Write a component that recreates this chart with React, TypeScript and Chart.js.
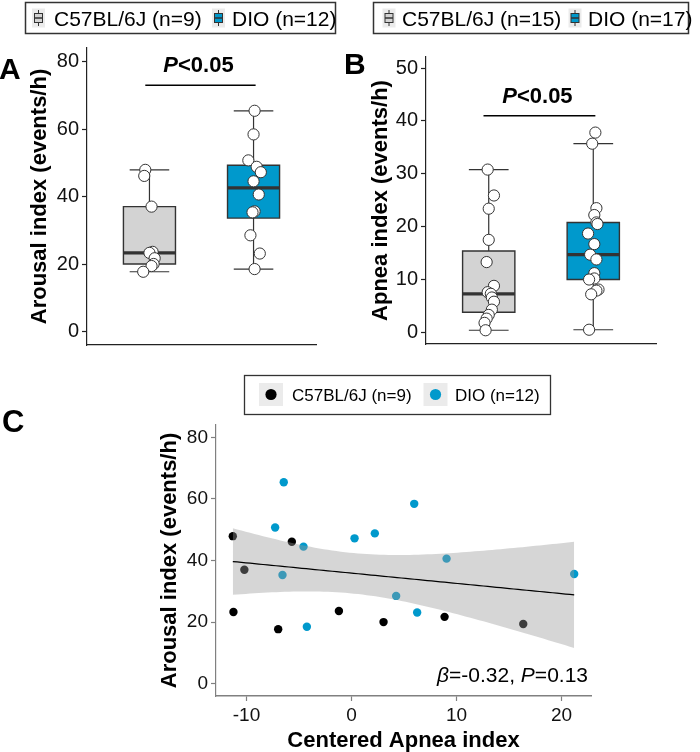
import React, { useEffect, useRef } from 'react';
import { Chart, registerables } from 'chart.js';

Chart.register(...registerables);

// ---------------- DATA ----------------
const GROUPS = ['C57BL/6J', 'DIO'];

// Panel A: arousal index (events/h)
const arousalC57 = [47.9, 46.1, 37.0, 23.6, 23.3, 21.7, 20.0, 19.4, 17.7];
const arousalC57Pos = [0.96, 0.95, 1.02, 1.03, 1.0, 1.05, 1.04, 1.02, 0.94];
const arousalDIO = [65.4, 58.4, 50.7, 48.8, 47.2, 44.5, 40.6, 35.6, 35.3, 28.5, 23.1, 18.5];
const arousalDIOPos = [2.01, 2.0, 1.95, 2.03, 2.07, 2.0, 2.05, 2.01, 1.99, 1.97, 2.06, 2.01];

// Panel B: apnea index (events/h)
const apneaC57 = [30.8, 25.9, 23.4, 17.5, 13.3, 8.8, 7.6, 7.3, 6.6, 5.8, 4.3, 3.3, 2.6, 1.8, 0.4];
const apneaC57Pos = [0.99, 1.05, 1.0, 1.0, 0.98, 1.05, 0.99, 1.02, 1.03, 1.05, 1.03, 1.0, 0.98, 0.96, 0.97];
const apneaDIO = [37.8, 35.7, 23.5, 22.2, 20.8, 20.5, 18.7, 16.7, 14.7, 13.8, 11.2, 10.2, 10.0, 8.1, 7.9, 7.2, 0.5];
const apneaDIOPos = [2.02, 1.99, 2.03, 2.01, 2.03, 2.04, 1.95, 2.01, 1.97, 2.03, 2.01, 2.01, 1.96, 2.05, 2.03, 1.98, 1.96];

// Panel C: centered apnea index vs arousal index
const centeredApneaC57 = [-11.3, -11.24, -10.2, -6.98, -5.68, -1.2, 3.05, 8.86, 16.35];
const arousalC57C = [47.9, 23.3, 37.0, 17.7, 46.1, 23.6, 20.0, 21.7, 19.4];
const centeredApneaDIO = [-6.45, -7.27, -6.57, -4.57, -4.25, 0.29, 2.22, 4.25, 5.97, 6.25, 9.05, 21.2];
const arousalDIOC = [65.4, 50.7, 35.3, 44.5, 18.5, 47.2, 48.8, 28.5, 58.4, 23.1, 40.6, 35.6];

// Ticks
const ticksA = [0, 20, 40, 60, 80];
const ticksB = [0, 10, 20, 30, 40, 50];
const ticksCY = [0, 20, 40, 60, 80];
const ticksCX = [-10, 0, 10, 20];

// Significance bars
const sigA = { from: 0.96, to: 2.02, y: 73 };
const sigB = { from: 0.95, to: 2.02, y: 41 };
const sigLabel = ['P', '<0.05'];
const statLabel = ['β', '=-0.32, ', 'P', '=0.13'];
const T_CRIT_DF19 = 2.093;

// ---------------- STYLE ----------------
const FONT = "'Liberation Sans', Arial, Helvetica, sans-serif";
const GRAY_FILL = '#d3d3d3';
const BLUE = '#0099cc';
const EDGE = '#333333';
const BOX_W = 0.5;
const CAP_W = 0.38;

// ---------------- HELPERS ----------------
function quantile(sorted: number[], p: number) {
  const h = (sorted.length - 1) * p;
  const lo = Math.floor(h);
  const hi = Math.min(lo + 1, sorted.length - 1);
  return sorted[lo] + (h - lo) * (sorted[hi] - sorted[lo]);
}
function boxStats(vals: number[]) {
  const s = [...vals].sort((a, b) => a - b);
  const q1 = quantile(s, 0.25), med = quantile(s, 0.5), q3 = quantile(s, 0.75);
  const iqr = q3 - q1;
  const lo = Math.min(...s.filter((v) => v >= q1 - 1.5 * iqr));
  const hi = Math.max(...s.filter((v) => v <= q3 + 1.5 * iqr));
  return { q1, med, q3, lo, hi };
}
function seg(pts: { x: number; y: number }[], extra: any = {}) {
  return {
    type: 'line',
    data: pts,
    showLine: true,
    pointRadius: 0,
    pointHoverRadius: 0,
    borderColor: EDGE,
    borderWidth: 1.2,
    tension: 0,
    fill: false,
    ...extra,
  };
}
function boxDatasets(vals: number[], pos: number, fill: string) {
  const st = boxStats(vals);
  const hw = BOX_W / 2, cw = CAP_W / 2;
  return [
    seg([{ x: pos - hw, y: st.q3 }, { x: pos + hw, y: st.q3 }], {
      fill: { value: st.q1 }, backgroundColor: fill, borderColor: 'rgba(0,0,0,0)', borderWidth: 1, order: 6,
    }),
    seg([{ x: pos, y: st.q3 }, { x: pos, y: st.hi }], { order: 5 }),
    seg([{ x: pos, y: st.q1 }, { x: pos, y: st.lo }], { order: 5 }),
    seg([{ x: pos - cw, y: st.hi }, { x: pos + cw, y: st.hi }], { order: 5 }),
    seg([{ x: pos - cw, y: st.lo }, { x: pos + cw, y: st.lo }], { order: 5 }),
    seg(
      [
        { x: pos - hw, y: st.q1 }, { x: pos + hw, y: st.q1 }, { x: pos + hw, y: st.q3 },
        { x: pos - hw, y: st.q3 }, { x: pos - hw, y: st.q1 },
      ],
      { order: 4, borderCapStyle: 'square', borderJoinStyle: 'miter', borderWidth: 1.4 }
    ),
    seg([{ x: pos - hw, y: st.med }, { x: pos + hw, y: st.med }], { borderWidth: 3.2, order: 3 }),
  ];
}
function pointsDataset(pos: number[], vals: number[]) {
  return {
    type: 'line',
    data: vals.map((v, i) => ({ x: pos[i], y: v })),
    showLine: false,
    pointRadius: 5.6,
    pointHoverRadius: 5.6,
    pointBackgroundColor: '#ffffff',
    pointBorderColor: EDGE,
    pointBorderWidth: 1,
    order: 1,
  };
}
function drawParts(ctx: CanvasRenderingContext2D, parts: { t: string; it?: boolean }[], x: number, y: number, size: number, weight: string, align: string) {
  const fonts = parts.map((p) => `${p.it ? 'italic ' : ''}${weight} ${size}px ${FONT}`);
  const widths = parts.map((p, i) => { ctx.font = fonts[i]; return ctx.measureText(p.t).width; });
  const total = widths.reduce((a, b) => a + b, 0);
  let cx = align === 'center' ? x - total / 2 : align === 'right' ? x - total : x;
  ctx.textAlign = 'left';
  ctx.textBaseline = 'alphabetic';
  parts.forEach((p, i) => { ctx.font = fonts[i]; ctx.fillText(p.t, cx, y); cx += widths[i]; });
}
function drawRotated(ctx: CanvasRenderingContext2D, text: string, x: number, y: number, font: string) {
  ctx.save();
  ctx.translate(x, y);
  ctx.rotate(-Math.PI / 2);
  ctx.font = font;
  ctx.fillStyle = '#000';
  ctx.textAlign = 'center';
  ctx.textBaseline = 'middle';
  ctx.fillText(text, 0, 0);
  ctx.restore();
}
function drawBoxKey(ctx: CanvasRenderingContext2D, cx: number, cy: number, fill: string) {
  ctx.save();
  ctx.fillStyle = '#ebebeb';
  ctx.fillRect(cx - 6.5, cy - 9.5, 13, 19);
  ctx.strokeStyle = EDGE;
  ctx.lineWidth = 1;
  ctx.beginPath();
  ctx.moveTo(cx, cy - 8); ctx.lineTo(cx, cy + 8);
  ctx.stroke();
  ctx.fillStyle = fill;
  ctx.fillRect(cx - 4, cy - 4.5, 8, 9);
  ctx.strokeRect(cx - 4, cy - 4.5, 8, 9);
  ctx.lineWidth = 1.5;
  ctx.beginPath();
  ctx.moveTo(cx - 4, cy); ctx.lineTo(cx + 4, cy);
  ctx.stroke();
  ctx.restore();
}
function drawBoxLegend(ctx: CanvasRenderingContext2D, box: any, items: any[]) {
  ctx.save();
  ctx.strokeStyle = EDGE;
  ctx.lineWidth = 1.5;
  ctx.strokeRect(box.x, box.y, box.w, box.h);
  items.forEach((it) => {
    drawBoxKey(ctx, it.kx, box.y + box.h / 2, it.color);
    ctx.fillStyle = '#000';
    ctx.font = `21px ${FONT}`;
    ctx.textAlign = 'left';
    ctx.textBaseline = 'alphabetic';
    ctx.fillText(it.label, it.tx, box.y + box.h / 2 + 8);
  });
  ctx.restore();
}

function yAxis(min: number, max: number, ticks: number[], width: number, color: string, size: number) {
  return {
    type: 'linear',
    min,
    max,
    afterBuildTicks: (s: any) => { s.ticks = ticks.map((v) => ({ value: v })); },
    afterFit: (s: any) => { s.width = width; },
    grid: { display: true, drawOnChartArea: false, drawTicks: true, tickLength: 5, tickColor: color, tickWidth: 1.2 },
    border: { display: true, color, width: 1.2 },
    ticks: { color: '#111', font: { size, family: FONT }, padding: 3 },
  };
}

function boxConfig(opts: any) {
  const { c57, c57Pos, dio, dioPos, ymin, ymax, ticks, yWidth, padding, sig, letter, letterY, yTitle, yTitleX, legend } = opts;
  const datasets: any[] = [
    ...boxDatasets(c57, 1, GRAY_FILL),
    ...boxDatasets(dio, 2, BLUE),
    pointsDataset(c57Pos, c57),
    pointsDataset(dioPos, dio),
    seg([{ x: sig.from, y: sig.y }, { x: sig.to, y: sig.y }], { borderColor: '#000', borderWidth: 1.5, order: 0 }),
  ];
  const decor = {
    id: 'decor',
    afterDraw(chart: any) {
      const ctx = chart.ctx as CanvasRenderingContext2D;
      const area = chart.chartArea;
      const xs = chart.scales.x, ys = chart.scales.y;
      ctx.save();
      ctx.fillStyle = '#000';
      ctx.font = `bold 30px ${FONT}`;
      ctx.textAlign = 'left';
      ctx.textBaseline = 'alphabetic';
      ctx.fillText(letter, -1, letterY);
      drawRotated(ctx, yTitle, yTitleX, (area.top + area.bottom) / 2, `bold 22px ${FONT}`);
      const mid = (xs.getPixelForValue(sig.from) + xs.getPixelForValue(sig.to)) / 2;
      drawParts(ctx, [{ t: sigLabel[0], it: true }, { t: sigLabel[1] }], mid - 2, ys.getPixelForValue(sig.y) - 13, 22, 'bold', 'center');
      drawBoxLegend(ctx, legend.box, legend.items);
      ctx.restore();
    },
  };
  return {
    type: 'line',
    data: { datasets },
    options: {
      animation: false,
      responsive: false,
      devicePixelRatio: 1,
      events: [],
      layout: { padding },
      plugins: { legend: { display: false }, tooltip: { enabled: false } },
      scales: {
        x: {
          type: 'linear', min: 0.4, max: 2.6,
          grid: { display: false, drawTicks: false },
          ticks: { display: false },
          border: { display: true, color: '#222', width: 1.2 },
          afterFit: (s: any) => { s.height = 0; },
        },
        y: yAxis(ymin, ymax, ticks, yWidth, '#222', 20),
      },
    },
    plugins: [decor],
  };
}

function configA() {
  return boxConfig({
    c57: arousalC57, c57Pos: arousalC57Pos, dio: arousalDIO, dioPos: arousalDIOPos,
    ymin: -4, ymax: 84, ticks: ticksA, yWidth: 87,
    padding: { left: 0, top: 48, right: 29, bottom: 12 },
    sig: sigA, letter: 'A', letterY: 79, yTitle: 'Arousal index (events/h)', yTitleX: 40,
    legend: {
      box: { x: 25.5, y: 2.5, w: 310, h: 31 },
      items: [
        { kx: 38.5, tx: 54, color: GRAY_FILL, label: `${GROUPS[0]} (n=${arousalC57.length})` },
        { kx: 218.5, tx: 232, color: BLUE, label: `${GROUPS[1]} (n=${arousalDIO.length})` },
      ],
    },
  });
}
function configB() {
  return boxConfig({
    c57: apneaC57, c57Pos: apneaC57Pos, dio: apneaDIO, dioPos: apneaDIOPos,
    ymin: -2.2, ymax: 52.1, ticks: ticksB, yWidth: 81,
    padding: { left: 0, top: 57, right: 44, bottom: 16 },
    sig: sigB, letter: 'B', letterY: 74, yTitle: 'Apnea index (events/h)', yTitleX: 36,
    legend: {
      box: { x: 28.5, y: 2.5, w: 315, h: 31 },
      items: [
        { kx: 44, tx: 57, color: GRAY_FILL, label: `${GROUPS[0]} (n=${apneaC57.length})` },
        { kx: 230, tx: 243, color: BLUE, label: `${GROUPS[1]} (n=${apneaDIO.length})` },
      ],
    },
  });
}

function configC() {
  const xsAll = [...centeredApneaC57, ...centeredApneaDIO];
  const ysAll = [...arousalC57C, ...arousalDIOC];
  const n = xsAll.length;
  const mx = xsAll.reduce((a, b) => a + b, 0) / n;
  const my = ysAll.reduce((a, b) => a + b, 0) / n;
  let sxx = 0, sxy = 0;
  for (let i = 0; i < n; i++) { sxx += (xsAll[i] - mx) ** 2; sxy += (xsAll[i] - mx) * (ysAll[i] - my); }
  const b = sxy / sxx, a = my - b * mx;
  let rss = 0;
  for (let i = 0; i < n; i++) rss += (ysAll[i] - a - b * xsAll[i]) ** 2;
  const s = Math.sqrt(rss / (n - 2));
  const xmin = Math.min(...xsAll), xmax = Math.max(...xsAll);
  const grid: number[] = [];
  for (let k = 0; k < 80; k++) grid.push(xmin + ((xmax - xmin) * k) / 79);
  const fit = (x: number) => a + b * x;
  const hw = (x: number) => T_CRIT_DF19 * s * Math.sqrt(1 / n + (x - mx) ** 2 / sxx);
  const upper = grid.map((x) => ({ x, y: fit(x) + hw(x) }));
  const lower = grid.map((x) => ({ x, y: fit(x) - hw(x) }));

  const pts = (xv: number[], yv: number[], color: string) => ({
    type: 'line',
    data: xv.map((x, i) => ({ x, y: yv[i] })),
    showLine: false,
    pointRadius: 4.2,
    pointHoverRadius: 4.2,
    pointBackgroundColor: color,
    pointBorderColor: color,
    pointBorderWidth: 0,
    order: 4,
  });
  const datasets: any[] = [
    pts(centeredApneaC57, arousalC57C, '#000000'),
    pts(centeredApneaDIO, arousalDIOC, BLUE),
    { type: 'line', data: upper, pointRadius: 0, borderColor: 'rgba(0,0,0,0)', borderWidth: 1, fill: '+1', backgroundColor: 'rgba(153,153,153,0.4)', tension: 0, order: 2 },
    { type: 'line', data: lower, pointRadius: 0, borderColor: 'rgba(0,0,0,0)', borderWidth: 1, fill: false, tension: 0, order: 3 },
    seg(grid.map((x) => ({ x, y: fit(x) })), { borderColor: '#000', borderWidth: 1.2, order: 1 }),
  ];
  const decor = {
    id: 'decorC',
    afterDraw(chart: any) {
      const ctx = chart.ctx as CanvasRenderingContext2D;
      const area = chart.chartArea;
      ctx.save();
      ctx.fillStyle = '#000';
      ctx.font = `bold 31px ${FONT}`;
      ctx.textAlign = 'left';
      ctx.textBaseline = 'alphabetic';
      ctx.fillText('C', 2, 72);
      drawRotated(ctx, 'Arousal index (events/h)', 170, (area.top + area.bottom) / 2, `bold 22px ${FONT}`);
      ctx.font = `bold 22px ${FONT}`;
      ctx.textAlign = 'center';
      ctx.fillText('Centered Apnea index', (area.left + area.right) / 2, 387);
      drawParts(ctx, [{ t: statLabel[0], it: true }, { t: statLabel[1] }, { t: statLabel[2], it: true }, { t: statLabel[3] }], area.right - 3, area.bottom - 14, 21, 'normal', 'right');
      // legend
      ctx.strokeStyle = EDGE;
      ctx.lineWidth = 1.3;
      ctx.strokeRect(244.5, 15.5, 306, 39);
      const items = [
        { bx: 259, tx: 292, color: '#000000', label: `${GROUPS[0]} (n=${centeredApneaC57.length})` },
        { bx: 423.5, tx: 455, color: BLUE, label: `${GROUPS[1]} (n=${centeredApneaDIO.length})` },
      ];
      items.forEach((it) => {
        ctx.fillStyle = '#ebebeb';
        ctx.fillRect(it.bx, 23, 24, 23);
        ctx.fillStyle = it.color;
        ctx.beginPath();
        ctx.arc(it.bx + 12, 34.5, 5.6, 0, Math.PI * 2);
        ctx.fill();
        ctx.fillStyle = '#000';
        ctx.font = `17px ${FONT}`;
        ctx.textAlign = 'left';
        ctx.fillText(it.label, it.tx, 41);
      });
      ctx.restore();
    },
  };
  const cy: any = yAxis(-4, 84, ticksCY, 216, '#808080', 19);
  return {
    type: 'line',
    data: { datasets },
    options: {
      animation: false,
      responsive: false,
      devicePixelRatio: 1,
      events: [],
      layout: { padding: { left: 0, top: 65, right: 109, bottom: 0 } },
      plugins: { legend: { display: false }, tooltip: { enabled: false } },
      scales: {
        x: {
          type: 'linear', min: -12.9, max: 22.8,
          afterBuildTicks: (sc: any) => { sc.ticks = ticksCX.map((v) => ({ value: v })); },
          afterFit: (sc: any) => { sc.height = 56; },
          grid: { display: true, drawOnChartArea: false, drawTicks: true, tickLength: 5, tickColor: '#808080', tickWidth: 1.2 },
          border: { display: true, color: '#808080', width: 1.4 },
          ticks: { color: '#111', font: { size: 19, family: FONT }, padding: 3, maxRotation: 0 },
        },
        y: cy,
      },
    },
    plugins: [decor],
  };
}

function ChartCanvas({ make, left, top, width, height }: any) {
  const ref = useRef<HTMLCanvasElement | null>(null);
  useEffect(() => {
    const chart = new Chart(ref.current as HTMLCanvasElement, make() as any);
    return () => chart.destroy();
  }, []);
  return (
    <canvas
      ref={ref}
      width={width}
      height={height}
      style={{ position: 'absolute', left, top, width, height, display: 'block' }}
    />
  );
}

export default function App() {
  return (
    <div style={{ position: 'absolute', left: 0, top: 0, width: 700, height: 752, background: '#fff', overflow: 'hidden' }}>
      <ChartCanvas make={configA} left={0} top={0} width={345} height={360} />
      <ChartCanvas make={configB} left={345} top={0} width={355} height={360} />
      <ChartCanvas make={configC} left={0} top={360} width={700} height={392} />
    </div>
  );
}
